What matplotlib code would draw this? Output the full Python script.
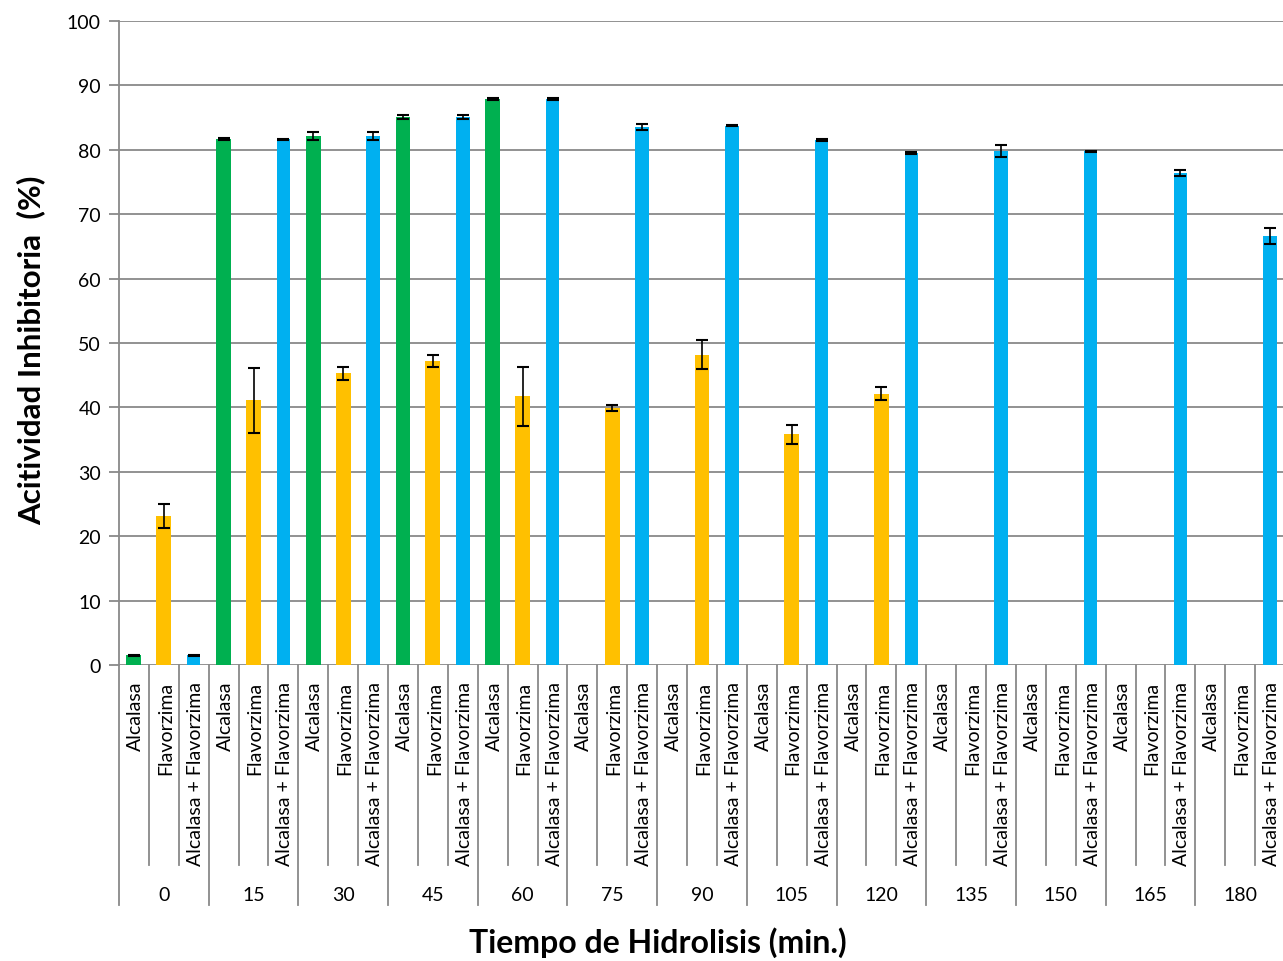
import numpy as np
import matplotlib
matplotlib.use("Agg")
import matplotlib.pyplot as plt
from matplotlib.transforms import blended_transform_factory

plt.rcParams['font.family'] = ['Lato', 'DejaVu Sans']

# Hydrolysis times (min) and enzyme treatments
times = ['0', '15', '30', '45', '60', '75', '90', '105', '120', '135', '150', '165', '180']
enzymes = ['Alcalasa', 'Flavorzima', 'Alcalasa + Flavorzima']

nan = np.nan
alcalasa = [1.5, 81.7, 82.1, 85.1, 87.9, nan, nan, nan, nan, nan, nan, nan, nan]
alcalasa_err = [0.1, 0.15, 0.65, 0.3, 0.1, nan, nan, nan, nan, nan, nan, nan, nan]
flavorzima = [23.1, 41.1, 45.3, 47.2, 41.7, 39.9, 48.2, 35.8, 42.1, nan, nan, nan, nan]
flavorzima_err = [1.9, 5.0, 1.0, 1.0, 4.6, 0.4, 2.3, 1.5, 1.0, nan, nan, nan, nan]
mezcla = [1.5, 81.6, 82.1, 85.1, 87.9, 83.5, 83.75, 81.5, 79.5, 79.85, 79.75, 76.4, 66.6]
mezcla_err = [0.1, 0.15, 0.65, 0.3, 0.1, 0.45, 0.1, 0.1, 0.15, 0.9, 0.1, 0.4, 1.3]

series = [
    (alcalasa, alcalasa_err, '#00B050', 0.50, -0.4),
    (flavorzima, flavorzima_err, '#FFC000', 0.50, -0.4),
    (mezcla, mezcla_err, '#00B0F0', 0.45, 0.0),
]

W, H = 1283, 962
fig = plt.figure(figsize=(W / 100, H / 100), dpi=100)
ax_left, ax_bottom = 119 / W, (H - 666) / H
ax_w, ax_h = 1166 / W, 644 / H
ax = fig.add_axes([ax_left, ax_bottom, ax_w, ax_h])

n_groups = len(times)
n_sub = len(enzymes)
grid_col = '#898989'
tick_fs = 14

for j, (vals, errs, col, width, base) in enumerate(series):
    vals = np.asarray(vals, dtype=float)
    errs = np.asarray(errs, dtype=float)
    ok = ~np.isnan(vals)
    xs = np.arange(n_groups)[ok] * n_sub + j
    ax.bar(xs, vals[ok] - base, bottom=base, width=width, color=col,
           edgecolor='none', zorder=3)
    ax.errorbar(xs, vals[ok], yerr=errs[ok], fmt='none', ecolor='black',
                elinewidth=1.2, capsize=4.0, capthick=1.5, zorder=4)

ax.set_xlim(-0.5, n_groups * n_sub - 0.5)
ax.set_ylim(0, 100)
ax.set_yticks(np.arange(0, 101, 10))
ax.yaxis.grid(True, color=grid_col, linewidth=1.3, zorder=0)
ax.set_axisbelow(True)
for s in ['top', 'right', 'bottom']:
    ax.spines[s].set_visible(False)
ax.spines['left'].set_color(grid_col)
ax.spines['left'].set_linewidth(1.3)
ax.tick_params(axis='y', length=7, width=1.3, color=grid_col, labelsize=tick_fs,
               pad=6, labelcolor='black')
ax.set_xticks([])

# Category axis: enzyme labels, separators and time groups
trans = blended_transform_factory(ax.transData, ax.transAxes)
sub_len = -(866 - 666) / 644
grp_len = -(906 - 666) / 644
for k in range(n_groups * n_sub + 1):
    x = k - 0.5
    y_end = grp_len if k % n_sub == 0 else sub_len
    ax.plot([x, x], [0, y_end], transform=trans, color=grid_col,
            linewidth=1.3, clip_on=False, zorder=2)
for g in range(n_groups):
    for j, name in enumerate(enzymes):
        ax.text(g * n_sub + j + 0.05, -(682 - 666) / 644, name, transform=trans,
                rotation=90, ha='center', va='top', fontsize=tick_fs)
    ax.text(g * n_sub + 1, -(896 - 666) / 644, times[g], transform=trans,
            ha='center', va='center', fontsize=tick_fs)

fig.text(31 / W, 1 - 350 / H, 'Acitividad Inhibitoria  (%)', rotation=90,
         ha='center', va='center', fontsize=22.5, fontweight='bold')
fig.text(658 / W, 1 - 943 / H, 'Tiempo de Hidrolisis (min.)',
         ha='center', va='center', fontsize=23, fontweight='bold')

fig.savefig('out.png', dpi=100)
